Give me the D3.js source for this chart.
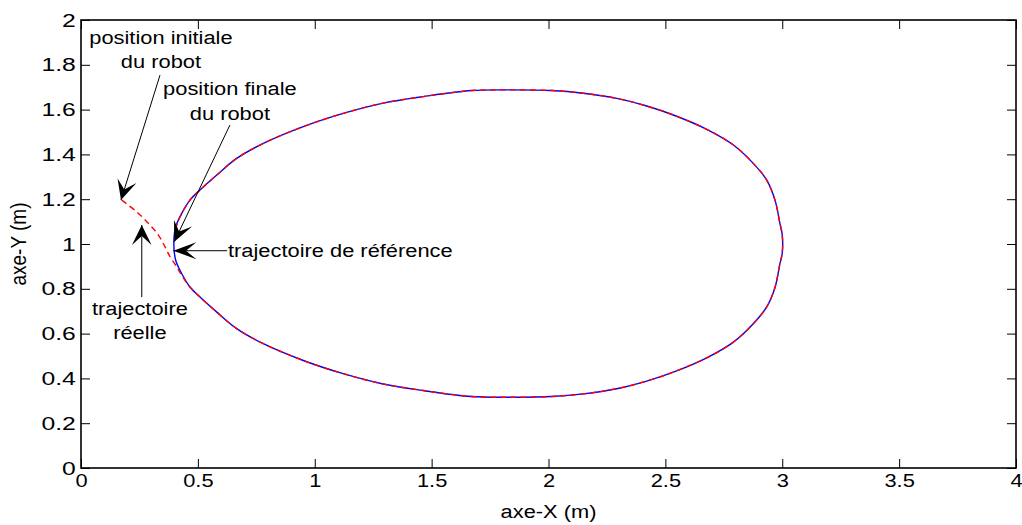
<!DOCTYPE html>
<html>
<head>
<meta charset="utf-8">
<script src="https://cdn.jsdelivr.net/npm/d3@7"></script>
<style>
  body { margin: 0; background: #fff; }
  svg { display: block; }
  text { font-family: "Liberation Sans", Arial, sans-serif; fill: #000; }
</style>
</head>
<body>
<svg id="chart" width="1022" height="525"></svg>
<script>
//axes ticks
var xTicks = [0, 0.5, 1, 1.5, 2, 2.5, 3, 3.5, 4];
var yTicks = [0, 0.2, 0.4, 0.6, 0.8, 1, 1.2, 1.4, 1.6, 1.8, 2];

//trajectoire de référence (bleu)
var refX = [0.398, 0.398, 0.406, 0.431, 0.466, 0.509, 0.581, 0.666, 0.780, 0.951,
    1.122, 1.293, 1.464, 1.671, 1.844, 2.014, 2.149, 2.292, 2.420, 2.534,
    2.677, 2.791, 2.876, 2.933, 2.969, 2.990, 3.000, 3.000, 2.990, 2.969,
    2.933, 2.876, 2.791, 2.677, 2.534, 2.420, 2.292, 2.149, 2.014, 1.844,
    1.671, 1.464, 1.293, 1.122, 0.951, 0.780, 0.666, 0.581, 0.509, 0.466,
    0.431, 0.406, 0.398];
var refY = [0.973, 1.031, 1.080, 1.137, 1.196, 1.241, 1.308, 1.382, 1.449, 1.524,
    1.583, 1.629, 1.658, 1.685, 1.688, 1.685, 1.673, 1.650, 1.616, 1.576,
    1.512, 1.442, 1.360, 1.286, 1.196, 1.092, 1.040, 0.960, 0.912, 0.806,
    0.718, 0.644, 0.562, 0.492, 0.428, 0.388, 0.354, 0.331, 0.319, 0.316,
    0.319, 0.346, 0.375, 0.421, 0.480, 0.555, 0.622, 0.696, 0.763, 0.808,
    0.867, 0.924, 0.973];

//trajectoire réelle (rouge, pointillé)
var realX = [0.174, 0.238, 0.295, 0.331, 0.359, 0.381, 0.409, 0.431, 0.466, 0.509,
    0.581, 0.666, 0.780, 0.951, 1.122, 1.293, 1.464, 1.671, 1.844, 2.014,
    2.149, 2.292, 2.420, 2.534, 2.677, 2.791, 2.876, 2.933, 2.969, 2.990,
    3.000, 3.000, 2.990, 2.969, 2.933, 2.876, 2.791, 2.677, 2.534, 2.420,
    2.292, 2.149, 2.014, 1.844, 1.671, 1.464, 1.293, 1.122, 0.951, 0.780,
    0.666, 0.581, 0.509, 0.466, 0.431, 0.410, 0.402];
var realY = [1.196, 1.144, 1.085, 1.040, 0.988, 0.943, 0.899, 0.860, 0.808, 0.763,
    0.696, 0.622, 0.555, 0.480, 0.421, 0.375, 0.346, 0.319, 0.316, 0.319,
    0.331, 0.354, 0.388, 0.428, 0.492, 0.562, 0.644, 0.718, 0.806, 0.912,
    0.960, 1.040, 1.092, 1.196, 1.286, 1.360, 1.442, 1.512, 1.576, 1.616,
    1.650, 1.673, 1.685, 1.688, 1.685, 1.658, 1.629, 1.583, 1.524, 1.449,
    1.382, 1.308, 1.241, 1.196, 1.137, 1.085, 1.050];

//annotations : texte
var noteLines = [
    {text: "position initiale", x: 0.342, y: 1.893, anchor: "middle"},
    {text: "du robot", x: 0.342, y: 1.786, anchor: "middle"},
    {text: "position finale", x: 0.637, y: 1.663, anchor: "middle"},
    {text: "du robot", x: 0.637, y: 1.554, anchor: "middle"},
    {text: "trajectoire de référence", x: 0.629, y: 0.942, anchor: "start"},
    {text: "trajectoire", x: 0.252, y: 0.683, anchor: "middle"},
    {text: "réelle", x: 0.252, y: 0.576, anchor: "middle"}
];
//annotations : flèches (queue -> pointe)
var noteArrows = [
    {x1: 0.338, y1: 1.754, x2: 0.171, y2: 1.196},
    {x1: 0.637, y1: 1.531, x2: 0.399, y2: 1.010},
    {x1: 0.625, y1: 0.970, x2: 0.395, y2: 0.970},
    {x1: 0.260, y1: 0.763, x2: 0.260, y2: 1.085}
];

var sx = 1.15;      // étirement horizontal du texte
var sxY = 1.3;      // étirement des graduations Y
var fontSize = 19;
var headL = 20, headW = 17;

var svg = d3.select("#chart");
var plot = {left: 81, right: 1016, top: 20, bottom: 468};

var xScale = d3.scaleLinear().domain([0, 4]).range([plot.left, plot.right]);
var yScale = d3.scaleLinear().domain([0, 2]).range([plot.bottom, plot.top]);

//axes
var gx = svg.append("g")
    .attr("transform", "translate(0," + plot.bottom + ")")
    .call(d3.axisBottom(xScale).tickValues(xTicks).tickFormat(d3.format("")).tickSize(-9).tickSizeOuter(0).tickPadding(6));
gx.selectAll("text")
    .attr("transform", "scale(" + sx + ",1)")
    .style("font-size", fontSize + "px");

var gy = svg.append("g")
    .attr("transform", "translate(" + plot.left + ",0)")
    .call(d3.axisLeft(yScale).tickValues(yTicks).tickFormat(d3.format("")).tickSize(-9).tickSizeOuter(0).tickPadding(4));
gy.selectAll("text")
    .attr("transform", "scale(" + sxY + ",1)")
    .style("font-size", fontSize + "px");

svg.append("g")
    .attr("transform", "translate(0," + plot.top + ")")
    .call(d3.axisTop(xScale).tickValues(xTicks).tickFormat("").tickSize(-9).tickSizeOuter(0));
svg.append("g")
    .attr("transform", "translate(" + plot.right + ",0)")
    .call(d3.axisRight(yScale).tickValues(yTicks).tickFormat("").tickSize(-9).tickSizeOuter(0));

svg.selectAll(".domain").remove();
svg.selectAll(".tick line").attr("stroke", "#000").attr("stroke-width", 1);

svg.append("rect")
    .attr("x", plot.left).attr("y", plot.top)
    .attr("width", plot.right - plot.left).attr("height", plot.bottom - plot.top)
    .attr("fill", "none").attr("stroke", "#000").attr("stroke-width", 1.6);

//titres des axes
svg.append("text")
    .attr("transform", "translate(" + ((plot.left + plot.right) / 2) + ",518) scale(" + sx + ",1)")
    .attr("text-anchor", "middle")
    .style("font-size", fontSize + "px")
    .text("axe-X (m)");
svg.append("text")
    .attr("transform", "translate(26," + ((plot.top + plot.bottom) / 2) + ") scale(" + sx + ",1) rotate(-90)")
    .attr("text-anchor", "middle")
    .style("font-size", fontSize + "px")
    .text("axe-Y (m)");

//courbes
var line = d3.line()
    .x(d => xScale(d[0]))
    .y(d => yScale(d[1]))
    .curve(d3.curveCatmullRom.alpha(0.5));

svg.append("path")
    .datum(refX.map((v, i) => [v, refY[i]]))
    .attr("d", line)
    .attr("fill", "none")
    .attr("stroke", "#0000ff")
    .attr("stroke-width", 1.4);

svg.append("path")
    .datum(realX.map((v, i) => [v, realY[i]]))
    .attr("d", line)
    .attr("fill", "none")
    .attr("stroke", "#ff0000")
    .attr("stroke-width", 1.4)
    .attr("stroke-dasharray", "6,4");

//flèches
function arrowHead(x1, y1, x2, y2) {
    let ax = x1 / sx, bx = x2 / sx;
    let dx = bx - ax, dy = y2 - y1, len = Math.hypot(dx, dy);
    let ux = dx / len, uy = dy / len, nx = -uy, ny = ux;
    let pts = [
        [bx, y2],
        [bx - headL * ux + headW / 2 * nx, y2 - headL * uy + headW / 2 * ny],
        [bx - headL * 0.55 * ux, y2 - headL * 0.55 * uy],
        [bx - headL * ux - headW / 2 * nx, y2 - headL * uy - headW / 2 * ny]
    ];
    return pts.map(p => [p[0] * sx, p[1]]);
}

var gArrows = svg.append("g");
noteArrows.forEach(a => {
    let x1 = xScale(a.x1), y1 = yScale(a.y1), x2 = xScale(a.x2), y2 = yScale(a.y2);
    gArrows.append("line")
        .attr("x1", x1).attr("y1", y1)
        .attr("x2", x2).attr("y2", y2)
        .attr("stroke", "#000").attr("stroke-width", 1);
    gArrows.append("path")
        .attr("d", "M" + arrowHead(x1, y1, x2, y2).join("L") + "Z")
        .attr("fill", "#000");
});

//textes
svg.append("g").selectAll("text")
    .data(noteLines)
    .join("text")
    .attr("transform", d => "translate(" + xScale(d.x) + "," + yScale(d.y) + ") scale(" + sx + ",1)")
    .attr("text-anchor", d => d.anchor)
    .style("font-size", fontSize + "px")
    .text(d => d.text);
</script>
</body>
</html>
